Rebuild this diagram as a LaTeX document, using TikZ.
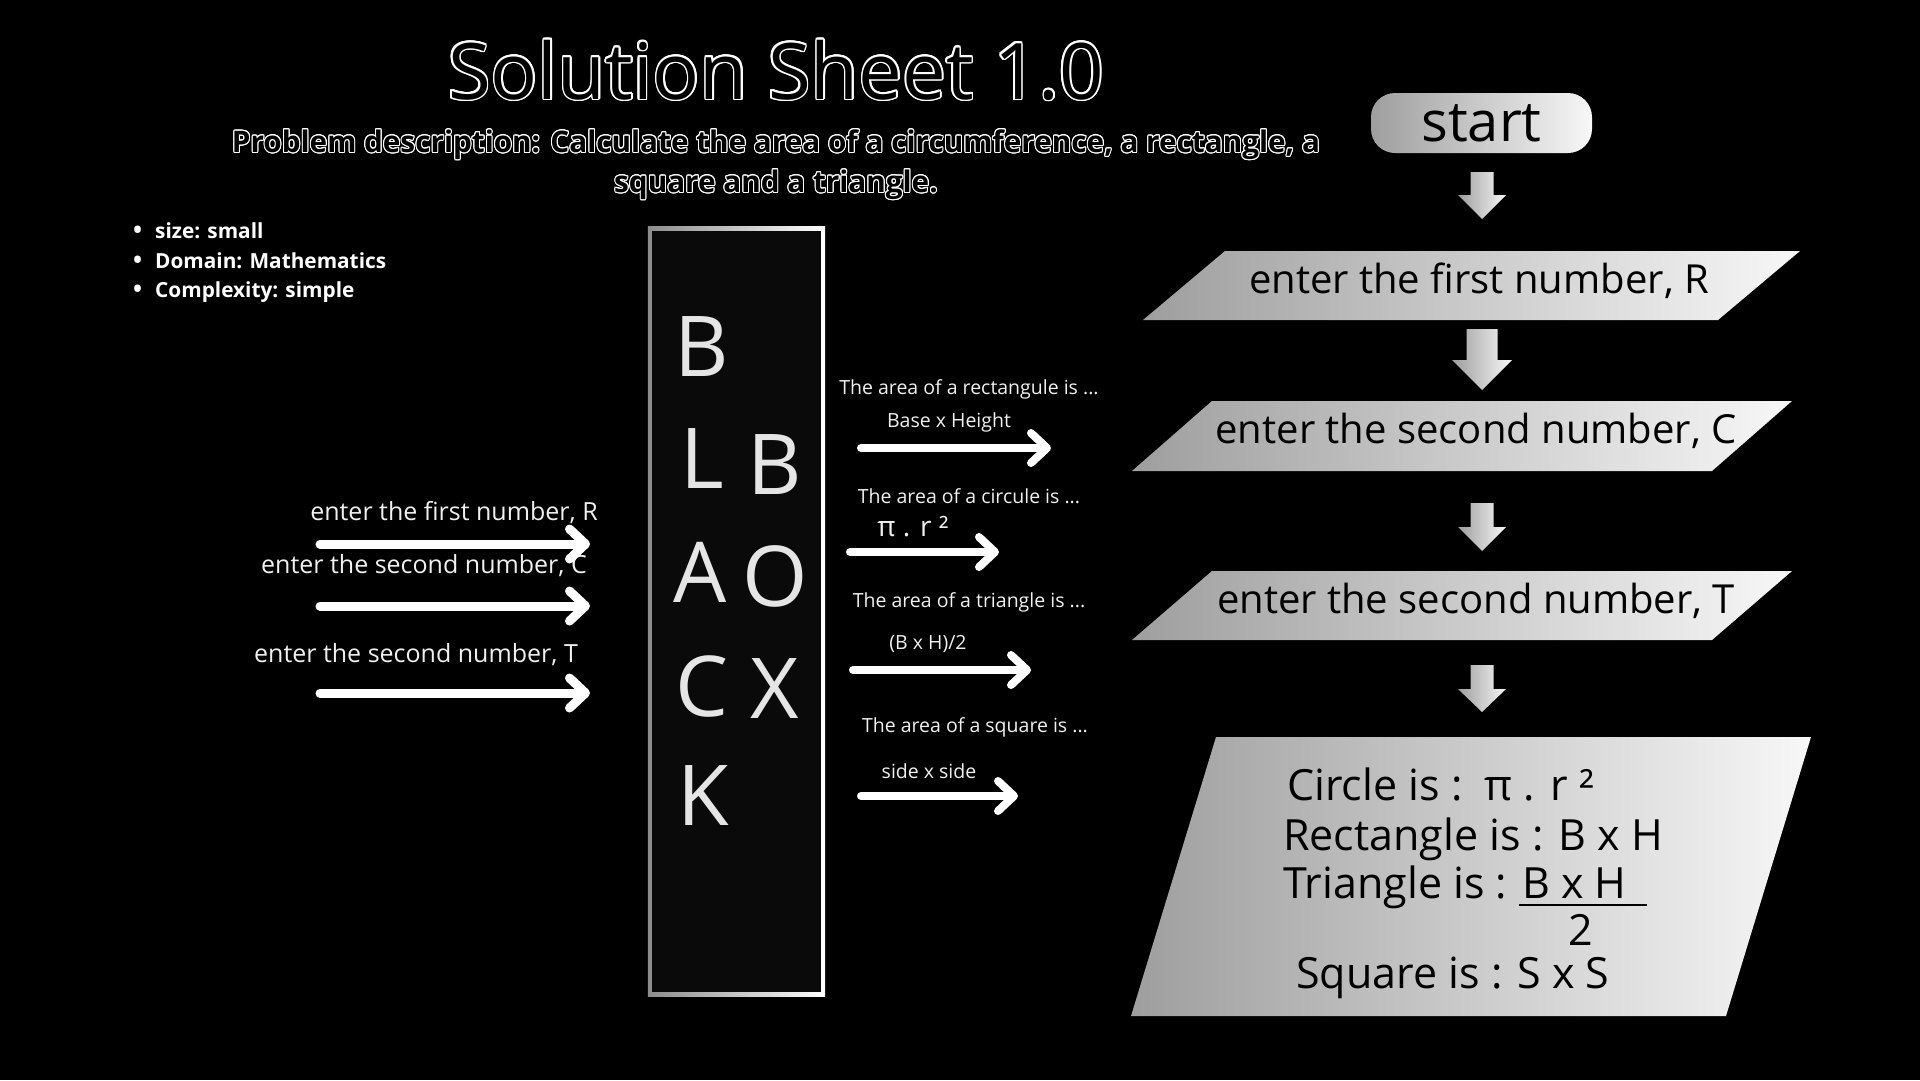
\documentclass[tikz,border=0pt]{standalone}
\usepackage{fontspec}
\setmainfont{Open Sans}
\usepackage{contour}
\usetikzlibrary{positioning,arrows.meta}

\begin{document}
\begin{tikzpicture}[x=1pt,y=-1pt,
    lbl/.style={text=white!94!black, inner sep=0pt, font=\fontsize{25}{30}\selectfont},
    small/.style={text=white!94!black, inner sep=0pt, font=\fontsize{19.5}{24}\selectfont},
    letter/.style={text=white!90!black, inner sep=0pt, font=\fontsize{84}{100}\selectfont},
    flowtext/.style={text=black, inner sep=0pt, anchor=base, font=\fontsize{40}{48}\selectfont},
    restext/.style={text=black, inner sep=0pt, anchor=base west, font=\fontsize{43}{50}\selectfont},
    fat/.style={white, line width=9pt, line cap=round, -{Straight Barb[length=16pt,width=30pt,round]}},
    grey/.style={left color=black!38, right color=white!97!black}]
    % background and page size
    \fill[black] (0,0) rectangle (1920,1080);
    \useasboundingbox (0,0) rectangle (1920,1080);

    % heading
    \node[text=black, inner sep=0pt, anchor=base, font=\fontsize{78}{90}\selectfont] (title) at (776,99)
        {\contourlength{1.6pt}\contour{white}{Solution Sheet 1.0}};
    \node[text=black, inner sep=0pt, align=center, font=\bfseries\fontsize{29.7}{40}\selectfont] (desc) at (776,165)
        {\contourlength{1pt}\contour{white}{Problem description: Calculate the area of a circumference, a rectangle, a}\\
         \contourlength{1pt}\contour{white}{square and a triangle.}};
    \foreach \y/\t [count=\i] in {238/size: small, 268/Domain: Mathematics, 297/Complexity: simple}
        \node[text=white, inner sep=0pt, anchor=base west, font=\bfseries\fontsize{20.8}{24}\selectfont] (fact\i) at (133,\y)
            {\makebox[22pt][l]{\fontsize{24}{24}\selectfont •}\t};

    % the black box
    \node[minimum width=177pt, minimum height=769pt, inner sep=0pt] (box) at (736.5,611.5) {};
    \shade[left color=black!45, right color=white] (box.north west) rectangle (box.south east);
    \fill[black!96] ([shift={(4,4)}]box.north west) rectangle ([shift={(-4,-4)}]box.south east);
    \foreach \c/\x/\y [count=\i] in {B/702/347, L/702/459, A/700/572, C/702/686, K/703/796, B/775/465, O/775/576, X/775/689}
        \node[letter] (bl\i) at (\x,\y) {\c};

    % inputs
    \node[lbl] (lab1) at (454,513) {enter the first number, R};
    \node[lbl] (lab2) at (424,566) {enter the second number, C};
    \node[lbl] (lab3) at (416,655) {enter the second number, T};
    \coordinate (in1a) at (320,544); \coordinate (in1b) at (590,544);
    \coordinate (in2a) at (320,606); \coordinate (in2b) at (590,606);
    \coordinate (in3a) at (320,693); \coordinate (in3b) at (590,693);
    \draw[fat] (in1a) -- (in1b);
    \draw[fat] (in2a) -- (in2b);
    \draw[fat] (in3a) -- (in3b);

    % outputs
    \node[small] (out1) at (969,389) {The area of a rectangule is ...};
    \node[small] (res1) at (949,422) {Base x Height};
    \node[small] (out2) at (969,496) {The area of a circule is ...};
    \node[small, font=\fontsize{28}{32}\selectfont] (res2) at (913,527) {π . r ²};
    \node[small] (out3) at (969,602) {The area of a triangle is ...};
    \node[small] (res3) at (928,644) {(B x H)/2};
    \node[small] (out4) at (975,727) {The area of a square is ...};
    \node[small] (res4) at (929,771) {side x side};
    \coordinate (o1a) at (861,448); \coordinate (o1b) at (1051,448);
    \coordinate (o2a) at (850,552); \coordinate (o2b) at (999,552);
    \coordinate (o3a) at (853,670); \coordinate (o3b) at (1031,670);
    \coordinate (o4a) at (861,796); \coordinate (o4b) at (1018,796);
    \draw[fat, line width=8pt] (o1a) -- (o1b);
    \draw[fat, line width=8pt] (o2a) -- (o2b);
    \draw[fat, line width=8pt] (o3a) -- (o3b);
    \draw[fat, line width=8pt] (o4a) -- (o4b);

    % flow chart
    \node[grey, rounded corners=24pt, minimum width=221pt, minimum height=60pt, inner sep=0pt,
          text=black, font=\fontsize{56}{60}\selectfont] (start) at (1481.5,123) {start};
    \foreach \t/\h/\e/\s/\w in {172/195/219/23/48, 329/360/390/31/60, 503/527/551/23/48, 665/689/712/23/48}
        \shade[grey] ({1482-\s/2},\t) -- ({1482+\s/2},\t) -- ({1482+\s/2},\h) -- ({1482+\w/2},\h)
            -- (1482,\e) -- ({1482-\w/2},\h) -- ({1482-\s/2},\h) -- cycle;

    \shade[grey] (1225,251) -- (1800,251) -- (1718,320) -- (1143,320) -- cycle;
    \node[flowtext] (in1) at (1479,293) {enter the first number, R};
    \shade[grey] (1212,401) -- (1792,401) -- (1712,471) -- (1132,471) -- cycle;
    \node[flowtext] (in2) at (1476,443) {enter the second number, C};
    \shade[grey] (1212,571) -- (1792,571) -- (1712,640) -- (1132,640) -- cycle;
    \node[flowtext] (in3) at (1476,613) {enter the second number, T};

    \shade[grey] (1216,737) -- (1811,737) -- (1726,1016) -- (1131,1016) -- cycle;
    \node[restext] (circ) at (1287,800) {Circle is :\ \ π . r ²};
    \node[restext] (rect) at (1283,850) {Rectangle is : B x H};
    \node[restext] (tri) at (1283,898) {Triangle is : B x H};
    \draw[black, line width=1.5pt] (1519,905) -- (1647,905);
    \node[restext, anchor=base] (two) at (1581,945) {2};
    \node[restext] (sq) at (1296,988) {Square is : S x S};
\end{tikzpicture}
\end{document}
